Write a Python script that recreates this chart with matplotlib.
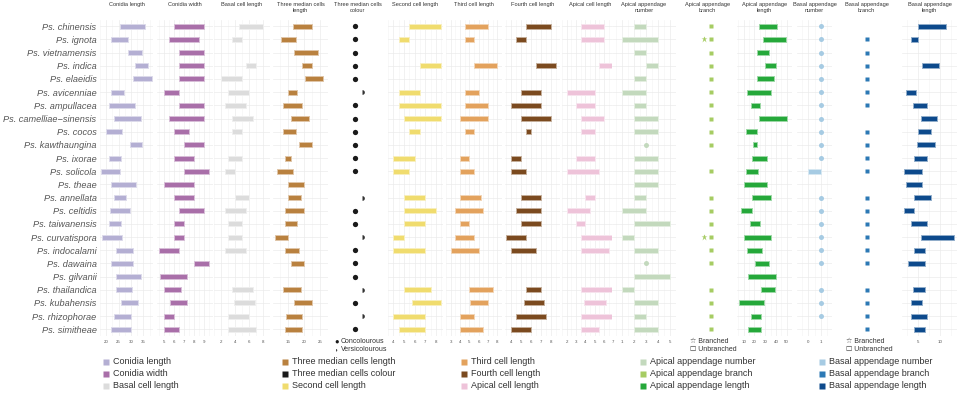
import numpy as np
import matplotlib
matplotlib.use("Agg")
import matplotlib.pyplot as plt
from matplotlib.markers import MarkerStyle
from matplotlib.colors import to_rgb

plt.rcParams['font.family'] = ['Liberation Sans', 'DejaVu Sans']

species = ['Ps. chinensis', 'Ps. ignota', 'Ps. vietnamensis', 'Ps. indica', 'Ps. elaeidis',
           'Ps. avicenniae', 'Ps. ampullacea', 'Ps. camelliae\u2212sinensis', 'Ps. cocos',
           'Ps. kawthaungina', 'Ps. ixorae', 'Ps. solicola', 'Ps. theae', 'Ps. annellata',
           'Ps. celtidis', 'Ps. taiwanensis', 'Ps. curvatispora', 'Ps. indocalami',
           'Ps. dawaina', 'Ps. gilvanii', 'Ps. thailandica', 'Ps. kubahensis',
           'Ps. rhizophorae', 'Ps. simitheae']

conidia_length = [(25.5, 35.5), (22, 29), (29, 34.5), (31.5, 37), (31, 38.5), (22, 27), (21, 31.5),
                  (23, 34), (20, 26.5), (29.5, 34.5), (21, 26), (18, 25.5), (22, 32), (23, 28),
                  (21.5, 29.5), (21, 26), (18.5, 26.5), (24, 31), (22, 31), (24, 34), (24, 30.5),
                  (26, 33), (23, 30), (22, 30)]
conidia_width = [(6, 9), (5.5, 8.5), (6.5, 9), (6.5, 9), (6.5, 9), (5, 6.5), (6.5, 9), (5.5, 9),
                 (6, 7.5), (7, 9), (6, 8), (7, 9.5), (5, 8), (6, 8), (6.5, 9), (6, 7), (6, 7),
                 (4.5, 6.5), (8, 9.5), (4.6, 7.3), (5, 6.7), (5.6, 7.3), (5, 6), (5, 6.5)]
basal_cell = [(4.5, 8), (3.5, 5), None, (5.5, 7), (2, 5), (3, 6), (2.5, 5.5), (3.5, 6.5), (3.5, 5),
              None, (3, 5), (2.5, 4), None, (4, 6), (2.5, 5.5), (3, 5), (3, 5), (2.5, 5.5), None,
              None, (3.5, 6.6), (3.8, 6.8), (3, 6), (3, 7)]
three_median = [(16.5, 22.5), (13, 17.5), (17, 24.5), (19.5, 22.5), (20.5, 26), (15, 18),
                (13.5, 19.5), (16, 21.5), (13.5, 17.5), (18.5, 22.5), (14, 16), (11.5, 16.5),
                (15, 20), (15, 19), (14, 20), (14, 18), (11, 15), (14, 18.5), (16, 20), None,
                (13.5, 19), (17, 22.5), (14.5, 19.5), (14, 19.5)]
median_colour = ['C', 'C', 'C', 'C', 'C', 'V', 'C', 'C', 'C', 'C', 'C', 'C', None, 'V', 'C', 'C',
                 'V', 'C', 'C', 'C', 'V', 'C', 'V', 'C']
second_cell = [(5.5, 8.5), (4.5, 5.5), None, (6.5, 8.5), None, (4.5, 6.5), (4.5, 8.5), (5, 8.5),
               (5.5, 6.5), None, (4, 6), (4, 5.5), None, (5, 7), (5, 8), (5, 7), (4, 5), (4, 7),
               None, None, (5, 7.5), (5.75, 8.5), (4, 7), (4.5, 7)]
third_cell = [(4.5, 7), (4.5, 5.5), None, (5.5, 8), None, (4.5, 6), (4.5, 7), (4, 7), (4.5, 5.5),
              None, (4, 5), (4, 5.5), None, (4, 6.2), (3.5, 6.5), (4, 5), (3.5, 5.5), (3, 6),
              None, None, (5, 7.5), (5.1, 7), (4, 5.5), (4, 6.5)]
fourth_cell = [(5.5, 8), (4.5, 5.5), None, (6.5, 8.5), None, (5, 7), (4, 7), (5, 8), (5.5, 6),
               None, (4, 5), (4, 5.5), None, (5, 7), (4.5, 7), (5, 7), (3.5, 5.5), (4, 6.5),
               None, None, (5.5, 7), (5.3, 7.3), (4.5, 7.5), (4, 6)]
apical_cell = [(3.5, 6), (3.5, 6), None, (5.5, 7), None, (2, 5), (3, 5), (3.5, 6), (3.5, 5), None,
               (3, 5), (2, 5.5), None, (4, 5), (2, 4.5), (3, 4), (3.5, 7), (3.5, 6.5), None,
               None, (3.5, 7), (3.9, 6.2), (3.5, 7), (3.5, 5.5)]
apical_app_number = [(2, 3), (1, 4), (2, 3), (3, 4), (2, 3), (1, 3), (2, 3), (2, 4), (2, 4),
                     (3, 3), (2, 4), (2, 4), (2, 4), (2, 3), (1, 3), (2, 5), (1, 2), (2, 4),
                     (3, 3), (2, 5), (1, 2), (2, 4), (2, 3), (2, 4)]
apical_branch = ['U', 'B', 'U', 'U', 'U', 'U', 'U', 'U', 'U', 'U', None, 'U', None, 'U', 'U', 'U',
                 'B', 'U', 'U', None, 'U', 'U', 'U', 'U']
apical_app_length = [(24, 41), (28, 49), (22, 34), (30, 40), (22.5, 38.5), (13.5, 35), (17, 25),
                     (24, 50), (12, 22.5), (18.5, 22.5), (17.5, 31.5), (12.5, 23), (10, 32),
                     (17.5, 35), (7.5, 17.5), (16, 25), (10, 35), (13.5, 27.5), (20.5, 33.5),
                     (14.5, 40), (26.5, 39.5), (5.5, 29), (16.5, 26), (14.5, 26)]
basal_app_number = [(1, 1), (1, 1), (1, 1), (1, 1), (1, 1), (1, 1), (1, 1), (1, 1), (1, 1), (1, 1),
                    (1, 1), (0, 1), None, (1, 1), (1, 1), (1, 1), (1, 1), (1, 1), (1, 1), None,
                    (1, 1), (1, 1), (1, 1), None]
basal_branch = [None, 'U', 'U', 'U', 'U', 'U', 'U', None, 'U', 'U', 'U', 'U', None, 'U', 'U', 'U',
                'U', 'U', 'U', None, 'U', 'U', 'U', 'U']
basal_app_length = [(5, 11.5), (3.3, 5), None, (6, 9.8), None, (2.3, 4.6), (3.8, 7), (5.7, 9.3),
                    (5, 8), (4.7, 8.8), (4.2, 7), (1.8, 6), (2.3, 6), (4.2, 8), (1.8, 4), (3.3, 7),
                    (5.7, 13.2), (4.2, 6.5), (2.8, 6.5), None, (3.8, 6.5), (3.3, 6), (3.3, 7),
                    (4.2, 6.5)]

# panel: title, data, colour, left px, right px, xlim, ticks, kind
panels = [
    ("Conidia length", conidia_length, '#b4afd3', 100, 153, (17.9, 38.9), [20, 25, 30, 35], 'range'),
    ("Conidia width", conidia_width, '#a96fa9', 157, 213, (4.3, 9.9), [5, 6, 7, 8, 9], 'range'),
    ("Basal cell length", basal_cell, '#dcdcdc', 214, 270, (1.6, 8.4), [2, 4, 6, 8], 'range'),
    ("Three median cells\nlength", three_median, '#b9813f', 273, 328, (10.4, 26.9), [15, 20, 25], 'range'),
    ("Three median cells\ncolour", median_colour, '#1a1a1a', 330, 385, (0, 1), [], 'colour'),
    ("Second cell length", second_cell, '#f0dc6e', 388, 443, (3.76, 8.65), [4, 5, 6, 7, 8], 'range'),
    ("Third cell length", third_cell, '#e3a25d', 446, 502, (2.73, 8.33), [3, 4, 5, 6, 7, 8], 'range'),
    ("Fourth cell length", fourth_cell, '#7b4a1f', 505, 560, (3.37, 8.87), [4, 5, 6, 7, 8], 'range'),
    ("Apical cell length", apical_cell, '#eec3d9', 562, 618, (1.73, 7.33), [2, 3, 4, 5, 6, 7], 'range'),
    ("Apical appendage\nnumber", apical_app_number, '#c3d9bd', 612, 676, (0.15, 5.27), [1, 2, 3, 4, 5], 'range'),
    ("Apical appendage\nbranch", apical_branch, '#a6cc63', 680, 735, (-1.79, 2.31), [], 'branch'),
    ("Apical appendage\nlength", apical_app_length, '#25a83a', 737, 792, (3.8, 52.4), [10, 20, 30, 40, 50], 'range'),
    ("Basal appendage\nnumber", basal_app_number, '#a6cbe3', 797, 832, (-0.9, 1.86), [0, 1], 'range'),
    ("Basal appendage\nbranch", basal_branch, '#2c79b5', 840, 893, (-1.56, 2.44), [], 'branch'),
    ("Basal appendage\nlength", basal_app_length, '#0d4a8c', 902, 957, (1.36, 13.9), [5, 10], 'range'),
]

W, H = 963, 394
TOP, BOTTOM = 19.7, 335.9
rows = np.arange(len(species))

fig = plt.figure(figsize=(W / 100, H / 100), dpi=100)


def lighten(c, f=0.55):
    r, g, b = to_rgb(c)
    return (r + (1 - r) * f, g + (1 - g) * f, b + (1 - b) * f)


axes = []
for title, data, color, x0, x1, xlim, ticks, kind in panels:
    ax = fig.add_axes([x0 / W, 1 - BOTTOM / H, (x1 - x0) / W, (BOTTOM - TOP) / H])
    ax.set_xlim(*xlim)
    ax.set_ylim(len(species) - 0.5, -0.5)
    for s in ax.spines.values():
        s.set_visible(False)
    ax.set_yticks(rows)
    ax.set_yticklabels([])
    ax.set_xticks(ticks)
    ax.tick_params(length=0, labelsize=3.2, labelcolor='#555555', pad=2.6)
    if kind == 'range':
        ax.set_xticks([(a + b) / 2 for a, b in zip(ticks[:-1], ticks[1:])]
                      + [ticks[0] - (ticks[1] - ticks[0]) / 2, ticks[-1] + (ticks[1] - ticks[0]) / 2],
                      minor=True)
        ax.tick_params(which='minor', length=0)
        ax.grid(True, which='major', color='#ebebeb', lw=0.5)
        ax.grid(True, which='minor', axis='x', color='#f3f3f3', lw=0.4)
        ax.set_axisbelow(True)
        edge = lighten(color)
        for i, v in enumerate(data):
            if v is None:
                continue
            lo, hi = v
            if lo == hi:
                ax.plot(lo, i, 'o', ms=3.6, color=color, mec='none', zorder=3)
            else:
                ax.barh(i, hi - lo, left=lo, height=0.38, color=color, edgecolor=edge,
                        linewidth=0.7, zorder=3)
    elif kind == 'colour':
        for i, v in enumerate(data):
            if v == 'C':
                ax.plot(0.46, i, 'o', ms=3.8, color=color, mec='none')
            elif v == 'V':
                ax.plot(0.59, i, ls='none', marker=MarkerStyle('o', fillstyle='right'),
                        ms=3.4, color='#333333', mew=0)
    elif kind == 'branch':
        for i, v in enumerate(data):
            if v is None:
                continue
            ax.plot(0.5, i, 's', ms=3.4, color=color, mec='none')
            if v == 'B':
                ax.plot(0.0, i, '*', ms=4.8, color=color, mec='none')
    fig.text((x0 + x1) / 2 / W, 1 - 2.2 / H, title, ha='center', va='top',
             fontsize=4.1, color='#333333', linespacing=1.25)
    axes.append(ax)

axes[0].set_yticklabels(species, fontsize=6.6, style='italic', color='#555555')
axes[0].tick_params(axis='y', pad=2.5)

# small legends below the marker panels
fig.text(334 / W, 1 - 341.7 / H, '\u25cf', fontsize=5.5, color='#1a1a1a', ha='left', va='center')
fig.text(341 / W, 1 - 341.7 / H, 'Concolourous', fontsize=5.0, color='#333333', ha='left', va='center')
fig.text(334.5 / W, 1 - 349.7 / H, '\u25d7', fontsize=4.0, color='#333333', ha='left', va='center')
fig.text(341 / W, 1 - 349.7 / H, 'Versicolourous', fontsize=5.0, color='#333333', ha='left', va='center')
for bx in (690, 845.5):
    fig.text(bx / W, 1 - 341.7 / H, '\u2606 Branched', fontsize=5.0, color='#333333', ha='left', va='center')
    fig.text(bx / W, 1 - 349.7 / H, '\u2610 Unbranched', fontsize=5.0, color='#333333', ha='left', va='center')

# bottom legend
leg_cols = [106, 285, 464, 643, 822]
leg_rows = [361.7, 373.7, 386]
lax = fig.add_axes([0, 0, 1, 1], zorder=-1)
lax.set_xlim(0, W)
lax.set_ylim(H, 0)
lax.axis('off')
for k, (title, data, color, *_rest) in enumerate(panels):
    cx = leg_cols[k // 3]
    cy = leg_rows[k % 3]
    lax.plot(cx, cy, 's', ms=4.3, color=color, mec='none')
    lax.text(cx + 7, cy, title.replace('\n', ' '), fontsize=6.5, color='#333333',
             ha='left', va='center')

fig.savefig('out.png', dpi=100)
